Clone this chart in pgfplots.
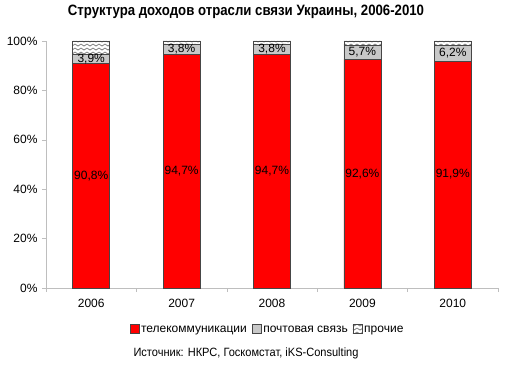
\documentclass[border=0pt]{standalone}
\usepackage{fontspec}
\setmainfont{Liberation Sans}
\usepackage{pgfplots}
\pgfplotsset{compat=1.18}
\usetikzlibrary{patterns}
\pgfdeclarepatternformonly{zigzag}{\pgfqpoint{-1pt}{-1pt}}{\pgfqpoint{7pt}{5pt}}{\pgfqpoint{6pt}{4pt}}{%
  \pgfsetlinewidth{0.8pt}%
  \pgfpathmoveto{\pgfqpoint{-0.2pt}{0.9pt}}%
  \pgfpathlineto{\pgfqpoint{3pt}{2.9pt}}%
  \pgfpathlineto{\pgfqpoint{6.2pt}{0.9pt}}%
  \pgfusepath{stroke}}
\definecolor{postgray}{RGB}{200,200,200}
\definecolor{axgray}{RGB}{190,190,190}
\definecolor{edgegray}{RGB}{70,70,70}
\begin{document}
\begin{tikzpicture}[x=1pt,y=1pt]
\path (0,0) rectangle (506,367);
\begin{axis}[
  at={(46pt,79pt)}, anchor=south west,
  scale only axis, width=452pt, height=247pt,
  ybar stacked, reverse stacked plots=false, bar width=37pt,
  xmin=-0.5, xmax=4.5, ymin=0, ymax=100,
  xtick={0,1,2,3,4},
  xticklabels={2006,2007,2008,2009,2010},
  minor xtick={-0.5,0.5,1.5,2.5,3.5,4.5},
  x tick style={draw=none},
  minor x tick style={draw=axgray, thin},
  ytick={0,20,40,60,80,100},
  yticklabel={\pgfmathprintnumber{\tick}\%},
  /pgf/number format/assume math mode=true,
  tick align=outside,
  major tick length=4pt, minor tick length=4pt,
  y tick style={draw=axgray, thin},
  axis x line*=bottom, axis y line*=left,
  axis line style={draw=axgray, thin},
  x axis line style={-}, y axis line style={-},
  tick label style={font=\fontsize{12}{14}\selectfont, text=black},
  xticklabel style={yshift=-4pt},
  yticklabel style={xshift=-1pt},
  legend style={at={(0.49,-0.135)}, anchor=north, draw=none, fill=none,
    legend columns=3, font=\fontsize{12}{14}\selectfont,
    /tikz/every even column/.append style={column sep=3pt}},
  legend image code/.code={\draw[#1] (0pt,-4pt) rectangle (9pt,5pt);},
  clip=false,
]
\addplot[fill=red, draw=edgegray, line width=0.5pt] coordinates {(0,90.8) (1,94.7) (2,94.7) (3,92.6) (4,91.9)};
\addplot[fill=postgray, draw=edgegray, line width=0.5pt] coordinates {(0,3.9) (1,3.8) (2,3.8) (3,5.7) (4,6.2)};
\addplot[pattern=zigzag, pattern color=gray, draw=edgegray, line width=0.5pt] coordinates {(0,5.3) (1,1.5) (2,1.5) (3,1.7) (4,1.9)};
\legend{телекоммуникации, почтовая связь, прочие}
\node[font=\fontsize{12}{14}\selectfont] at (axis cs:0,45.4) {90,8\%};
\node[font=\fontsize{12}{14}\selectfont] at (axis cs:1,47.4) {94,7\%};
\node[font=\fontsize{12}{14}\selectfont] at (axis cs:2,47.4) {94,7\%};
\node[font=\fontsize{12}{14}\selectfont] at (axis cs:3,46.3) {92,6\%};
\node[font=\fontsize{12}{14}\selectfont] at (axis cs:4,46.0) {91,9\%};
\node[font=\fontsize{12}{14}\selectfont] at (axis cs:0,92.75) {3,9\%};
\node[font=\fontsize{12}{14}\selectfont] at (axis cs:1,96.6) {3,8\%};
\node[font=\fontsize{12}{14}\selectfont] at (axis cs:2,96.6) {3,8\%};
\node[font=\fontsize{12}{14}\selectfont] at (axis cs:3,95.45) {5,7\%};
\node[font=\fontsize{12}{14}\selectfont] at (axis cs:4,95.0) {6,2\%};
\end{axis}
\node at (246,355) {\scalebox{0.88}[1]{\fontsize{15}{17}\selectfont\bfseries Структура доходов отрасли связи Украины, 2006-2010}};
\node at (246,14) {\scalebox{0.92}[1]{\fontsize{12}{14}\selectfont Источник: НКРС, Госкомстат, iKS-Consulting}};
\end{tikzpicture}
\end{document}
